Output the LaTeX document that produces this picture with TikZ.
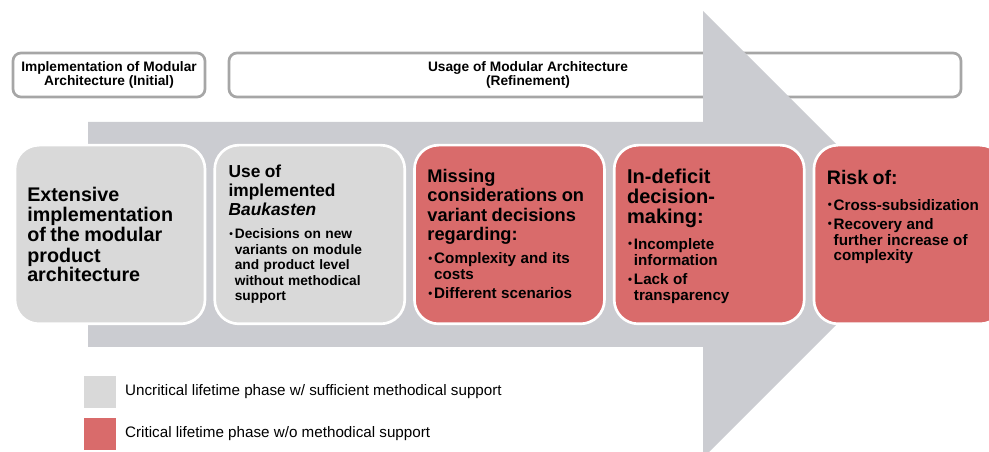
\documentclass[tikz,border=0pt]{standalone}
\usepackage{fontspec}
\setmainfont{Liberation Sans}
\usepackage{xcolor}
\usepackage{graphicx}
\usetikzlibrary{positioning}
\definecolor{arrowgray}{RGB}{203,204,209}
\definecolor{phasegray}{RGB}{217,217,217}
\definecolor{phasered}{RGB}{217,107,107}
\definecolor{framegray}{RGB}{166,166,166}
\newcommand{\fsz}[2]{\fontsize{#1pt}{#2pt}\selectfont}
\newcommand{\pitem}[1]{\par\prevdepth=\dp\strutbox\vspace{2.5pt}\noindent
  \makebox[0.45em][l]{\hspace{0.06em}\raisebox{0.1em}{\scalebox{0.75}{\textbullet}}}%
  \parbox[t]{\dimexpr\linewidth-0.45em\relax}{#1\strut}}
\tikzset{
  topframe/.style={draw=framegray, line width=2pt, fill=white, rounded corners=6pt,
    minimum height=33pt, inner sep=0pt, align=center, font=\bfseries\fsz{10.3}{10.3}},
  phase/.style={draw=white, line width=2pt, rounded corners=18pt,
    minimum width=142.5pt, minimum height=134pt, inner sep=0pt},
  phasetext/.style={anchor=north west, align=left, inner sep=0pt, text width=130pt, font=\bfseries},
  legbox/.style={minimum size=24pt, inner sep=0pt},
  legtext/.style={anchor=west, inner sep=0pt, font=\fsz{11.4}{13}}
}
\begin{document}
\begin{tikzpicture}[x=0.75pt,y=-0.75pt]
\useasboundingbox (0,0) rectangle (989,452);
\clip (0,0) rectangle (989,452);

\node[topframe, minimum width=144pt] (implInitial) at (109,75) {Implementation of Modular\\Architecture (Initial)};
\node[topframe, minimum width=549pt] (usageRefine) at (595,75) {};
\node[inner sep=0pt, align=center, font=\bfseries\fsz{10.3}{10.3}] (usageText) at (528,75) {Usage of Modular Architecture\\(Refinement)};

\fill[arrowgray] (88,122) -- (703,122) -- (703,11) -- (926.5,234.5) -- (703,458) -- (703,347) -- (88,347) -- cycle;

\node[phase, fill=phasegray] (extensive) at (110,234.5) {};
\node[phase, fill=phasegray, right=5.3pt of extensive] (useBaukasten) {};
\node[phase, fill=phasered, right=5.3pt of useBaukasten] (missing) {};
\node[phase, fill=phasered, right=5.3pt of missing] (deficit) {};
\node[phase, fill=phasered, right=5.3pt of deficit] (risk) {};

\node[phasetext, anchor=west] (extensiveText) at ([xshift=10pt]extensive.west)
  {\fsz{14.8}{15.2}Extensive\\implementation\\of the modular\\product\\architecture};
\node[phasetext] (useText) at ([shift={(15,21)}]useBaukasten.north west)
  {\fsz{13}{14.3}Use of\\implemented\\\textit{Baukasten}\par\vspace{6pt}
   \fsz{10.3}{11.6}\pitem{Decisions on new\\variants on module\\and product level\\without methodical\\support}};
\node[phasetext] (missingText) at ([shift={(14,25)}]missing.north west)
  {\fsz{13.7}{14.5}Missing\\considerations on\\variant decisions\\regarding:\par\vspace{3pt}
   \fsz{11.4}{11.8}\pitem{Complexity and its\\costs}\pitem{Different scenarios}};
\node[phasetext] (deficitText) at ([shift={(14,25)}]deficit.north west)
  {\fsz{15}{15}In-deficit\\decision-\\making:\par\vspace{4.5pt}
   \fsz{11.4}{11.8}\pitem{Incomplete\\information}\pitem{Lack of\\transparency}};
\node[phasetext] (riskText) at ([shift={(14,26)}]risk.north west)
  {\fsz{14.7}{15}Risk of:\par\vspace{7.5pt}
   \fsz{11.4}{11.8}\pitem{Cross-subsidization}\pitem{Recovery and\\further increase of\\complexity}};

\node[legbox, fill=phasegray] (legUncrit) at (100,392) {};
\node[legbox, fill=phasered] (legCrit) at (100,434) {};
\node[legtext, right=6.5pt of legUncrit] (legUncritText) {Uncritical lifetime phase w/ sufficient methodical support};
\node[legtext, right=6.5pt of legCrit] (legCritText) {Critical lifetime phase w/o methodical support};
\end{tikzpicture}
\end{document}
